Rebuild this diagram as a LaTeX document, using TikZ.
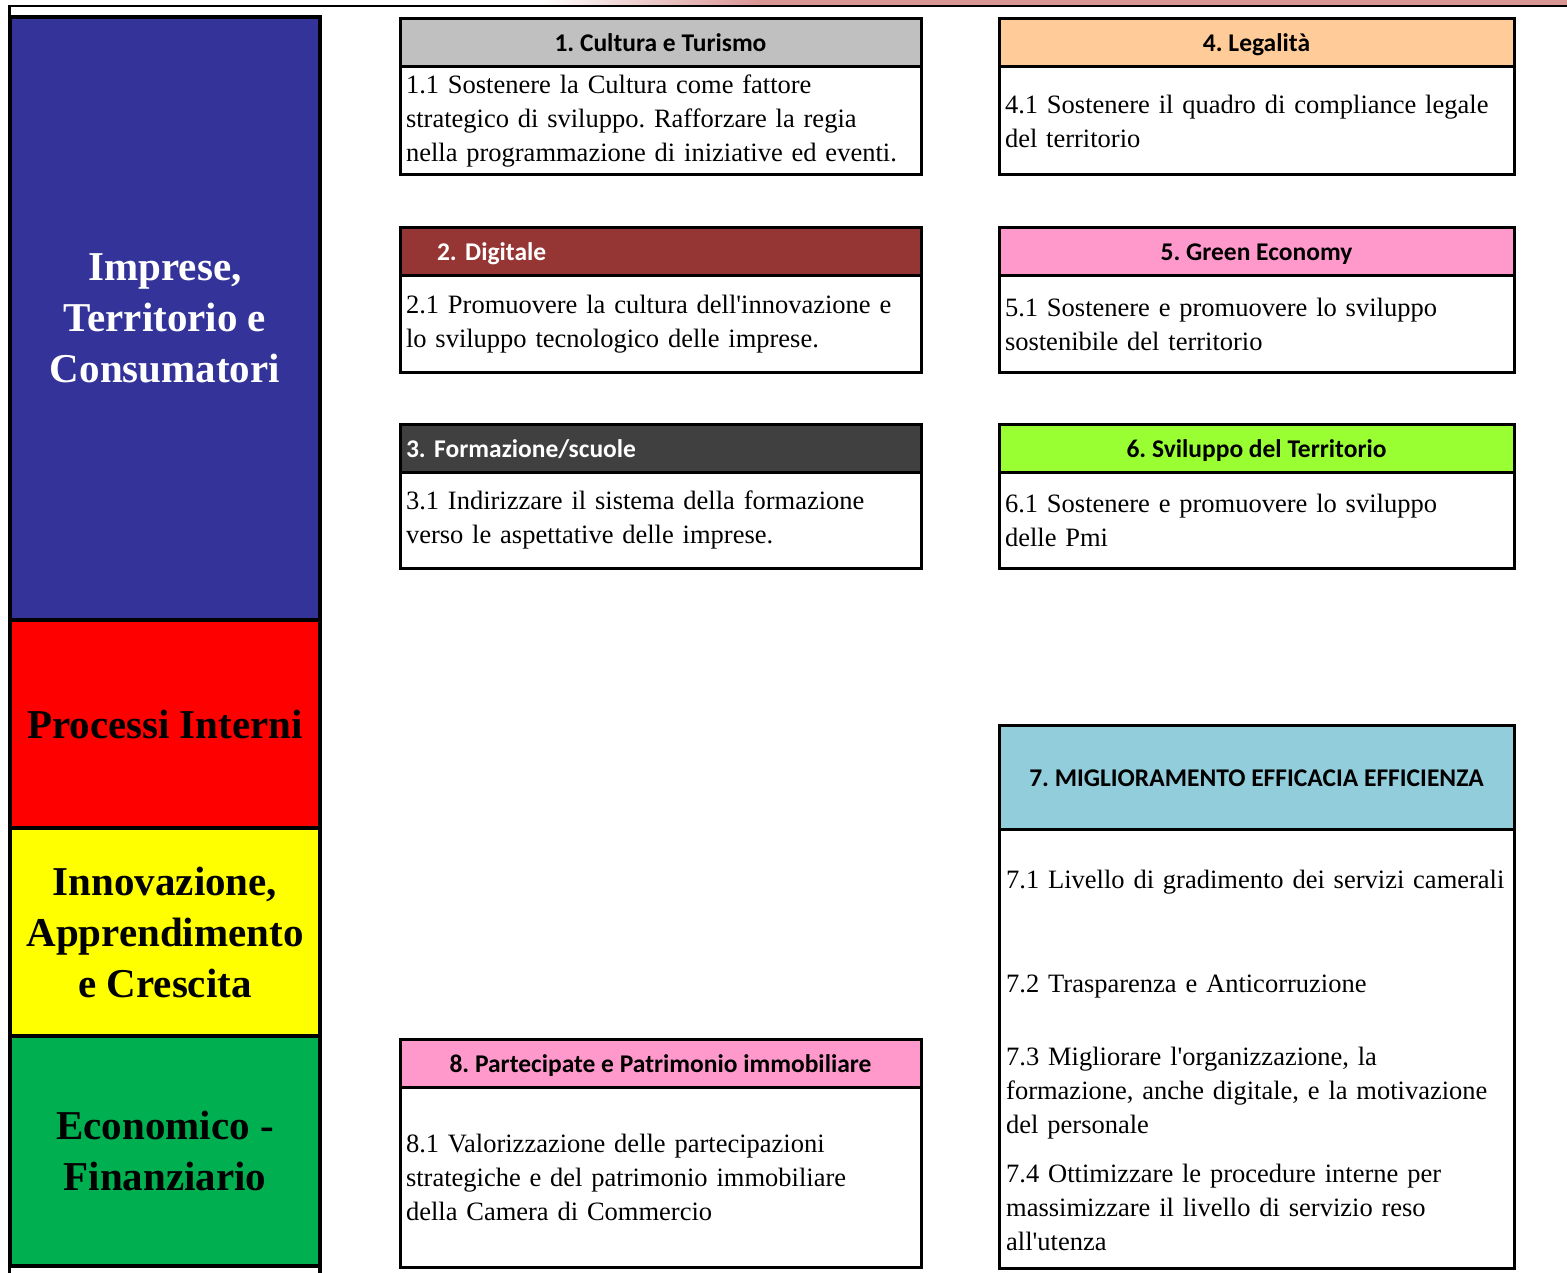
\documentclass[tikz,border=0pt]{standalone}
\usepackage{fontspec}
\setmainfont{Liberation Serif}[Ligatures=TeXOff]
\newfontfamily\hdrfont{Carlito}
\usetikzlibrary{positioning}

\definecolor{bandblue}{HTML}{333399}
\definecolor{bandred}{HTML}{FF0000}
\definecolor{bandyellow}{HTML}{FFFF00}
\definecolor{bandgreen}{HTML}{00B050}
\definecolor{hdrgrey}{HTML}{C0C0C0}
\definecolor{hdrorange}{HTML}{FFCC99}
\definecolor{hdrbrown}{HTML}{963634}
\definecolor{hdrpink}{HTML}{FF99CC}
\definecolor{hdrdark}{HTML}{404040}
\definecolor{hdrlime}{HTML}{99FF33}
\definecolor{hdrcyan}{HTML}{92CDDC}
\definecolor{stripink}{HTML}{D99594}

\tikzset{
  band/.style={draw, line width=4pt, minimum width=310, inner sep=0pt, outer sep=0pt,
    align=center, font=\fontsize{41}{51}\selectfont\bfseries},
  hdr/.style={draw, line width=3pt, minimum width=521, minimum height=48,
    inner sep=0pt, outer sep=0pt, text height=23, text depth=5,
    font=\hdrfont\fontsize{25.5}{28}\selectfont\bfseries},
  body/.style={draw, line width=3pt, minimum width=521, text width=509,
    inner sep=0pt, outer sep=0pt, align=left, font=\fontsize{26.5}{34}\selectfont},
  item/.style={anchor=west, inner sep=0pt, text width=505, align=left,
    font=\fontsize{26.5}{34}\selectfont}
}

\begin{document}
\frenchspacing
\begin{tikzpicture}[x=1pt,y=-1pt]
  \useasboundingbox (0,0) rectangle (1567,1273);
  % frame of the sheet
  \shade[left color=white, right color=stripink] (540,0) rectangle (760,5);
  \fill[stripink] (760,0) rectangle (1567,5);
  \draw[line width=2.5pt] (8,6) -- (1567,6);
  \draw[line width=3pt] (9.5,5) -- (9.5,1273);
  \draw[line width=3.5pt] (320,1266) -- (320,1273);

  % perspectives
  \node[band, fill=bandblue, text=white, minimum height=603] (p1) at (165,318.5)
    {Imprese,\\Territorio e\\Consumatori};
  \node[band, fill=bandred, minimum height=208] (p2) at (165,724) {Processi Interni};
  \node[band, fill=bandyellow, minimum height=208] (p3) at (165,932)
    {Innovazione,\\Apprendimento\\e Crescita};
  \node[band, fill=bandgreen, minimum height=230] (p4) at (165,1151)
    {Economico -\\Finanziario};

  % objectives, left column
  \node[hdr, fill=hdrgrey] (h1) at (660.5,43) {1. Cultura e Turismo};
  \node[body, below=0pt of h1, minimum height=108] (b1)
    {1.1 Sostenere la Cultura come fattore\\strategico di sviluppo. Rafforzare la regia\\nella programmazione di iniziative ed eventi.};

  \node[hdr, fill=hdrbrown, text=white, text width=447, align=left] (h2) at (660.5,251.5) {2. Digitale};
  \node[body, below=0pt of h2, minimum height=97] (b2)
    {2.1 Promuovere la cultura dell'innovazione e\\lo sviluppo tecnologico delle imprese.};

  \node[hdr, fill=hdrdark, text=white, text width=509, align=left] (h3) at (660.5,448) {3. Formazione/scuole};
  \node[body, below=0pt of h3, minimum height=96] (b3)
    {3.1 Indirizzare il sistema della formazione\\verso le aspettative delle imprese.};

  \node[hdr, fill=hdrpink] (h8) at (660.5,1063) {8. Partecipate e Patrimonio immobiliare};
  \node[body, below=0pt of h8, minimum height=180] (b8)
    {8.1 Valorizzazione delle partecipazioni\\strategiche e del patrimonio immobiliare\\della Camera di Commercio};

  % objectives, right column
  \node[hdr, fill=hdrorange, minimum width=515] (h4) at (1256.5,43) {4. Legalità};
  \node[body, below=0pt of h4, minimum width=515, text width=503, minimum height=108] (b4)
    {4.1 Sostenere il quadro di compliance legale\\del territorio};

  \node[hdr, fill=hdrpink, minimum width=515] (h5) at (1256.5,251.5) {5. Green Economy};
  \node[body, below=0pt of h5, minimum width=515, text width=503, minimum height=97] (b5)
    {5.1 Sostenere e promuovere lo sviluppo\\sostenibile del territorio};

  \node[hdr, fill=hdrlime, minimum width=515] (h6) at (1256.5,448) {6. Sviluppo del Territorio};
  \node[body, below=0pt of h6, minimum width=515, text width=503, minimum height=96] (b6)
    {6.1 Sostenere e promuovere lo sviluppo\\delle Pmi};

  \node[hdr, fill=hdrcyan, minimum width=515, minimum height=104] (h7) at (1256.5,777) {7. MIGLIORAMENTO EFFICACIA EFFICIENZA};
  \node[body, below=0pt of h7, minimum width=515, text width=503, minimum height=439] (b7) {};
  \node[item] (t71) at (1006,882) {7.1 Livello di gradimento dei servizi camerali};
  \node[item] (t72) at (1006,987) {7.2 Trasparenza e Anticorruzione};
  \node[item] (t73) at (1006,1093) {7.3 Migliorare l'organizzazione, la\\formazione, anche digitale, e la motivazione\\del personale};
  \node[item] (t74) at (1006,1207) {7.4 Ottimizzare le procedure interne per\\massimizzare il livello di servizio reso\\all'utenza};
\end{tikzpicture}
\end{document}
